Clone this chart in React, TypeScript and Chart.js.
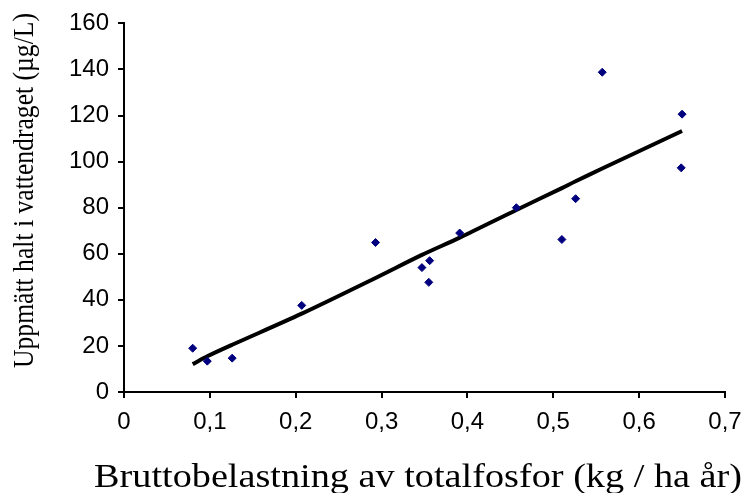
import React, { useEffect, useRef } from "react";
import { Chart, registerables } from "chart.js";

Chart.register(...registerables);

const loadX = [0.08, 0.097, 0.126, 0.207, 0.293, 0.347, 0.356, 0.355, 0.391, 0.457, 0.51, 0.526, 0.557, 0.65, 0.649];
const measuredY = [19, 13.4, 14.7, 37.6, 64.9, 54, 57, 47.6, 69, 80, 66.2, 83.9, 138.8, 120.6, 97.3];

const trendX = [0.08, 0.097, 0.126, 0.207, 0.293, 0.347, 0.391, 0.457, 0.51, 0.526, 0.557, 0.65];
const trendY = [12.1, 15.5, 20.5, 34, 49.5, 59.5, 67, 79, 88.5, 91.5, 97, 113.3];

const xTicks = [0, 0.1, 0.2, 0.3, 0.4, 0.5, 0.6, 0.7];
const yTicks = [0, 20, 40, 60, 80, 100, 120, 140, 160];

const xTitle = "Bruttobelastning av totalfosfor (kg / ha år)";
const yTitle = "Uppmätt halt i vattendraget (µg/L)";

const SERIF = "'Liberation Serif', 'Times New Roman', serif";

const titlePlugin = {
  id: "axisTitles",
  afterDraw(chart: any) {
    const ctx = chart.ctx;
    ctx.save();
    ctx.fillStyle = "#000";
    ctx.textAlign = "center";
    ctx.textBaseline = "alphabetic";
    // x title
    ctx.font = "34px " + SERIF;
    const wx = ctx.measureText(xTitle).width;
    ctx.save();
    ctx.translate(418, 487);
    ctx.scale(648 / wx, 1);
    ctx.fillText(xTitle, 0, 0);
    ctx.restore();
    // y title
    ctx.font = "26px " + SERIF;
    const wy = ctx.measureText(yTitle).width;
    ctx.save();
    ctx.translate(33, 190.5);
    ctx.rotate(-Math.PI / 2);
    ctx.scale(355 / wy, 1.1);
    ctx.fillText(yTitle, 0, 0);
    ctx.restore();
    ctx.restore();
  },
};

export default function App() {
  const ref = useRef<HTMLCanvasElement>(null);
  useEffect(() => {
    if (!ref.current) return;
    const chart = new Chart(ref.current, {
      type: "scatter",
      data: {
        datasets: [
          {
            label: "Trend",
            data: trendX.map((x, i) => ({ x, y: trendY[i] })),
            showLine: true,
            borderColor: "#000",
            borderWidth: 4,
            pointRadius: 0,
            tension: 0.3,
            order: 2,
          },
          {
            label: "Mätt",
            data: loadX.map((x, i) => ({ x, y: measuredY[i] })),
            pointStyle: "rectRot",
            pointRadius: 4,
            backgroundColor: "#00007f",
            borderColor: "#00007f",
            borderWidth: 1,
            order: 1,
          },
        ],
      },
      options: {
        animation: false,
        responsive: false,
        maintainAspectRatio: false,
        layout: { padding: { left: 0, right: 31, top: 22, bottom: 0 } },
        plugins: { legend: { display: false }, tooltip: { enabled: false } },
        scales: {
          x: {
            type: "linear",
            min: 0,
            max: 0.7,
            afterBuildTicks: (s: any) => {
              s.ticks = xTicks.map((v) => ({ value: v }));
            },
            afterFit: (s: any) => {
              s.height = 101;
            },
            ticks: {
              color: "#000",
              font: { family: "'Liberation Sans', Arial, sans-serif", size: 24 },
              padding: 10,
              maxRotation: 0,
              autoSkip: false,
              callback: (v: any) => (v === 0 ? "0" : (Math.round(Number(v) * 10) / 10).toFixed(1).replace(".", ",")),
            },
            grid: { drawOnChartArea: false, drawTicks: true, tickLength: 6, color: "#000", lineWidth: 2 },
            border: { color: "#000", width: 2 },
          },
          y: {
            type: "linear",
            min: 0,
            max: 160,
            afterBuildTicks: (s: any) => {
              s.ticks = yTicks.map((v) => ({ value: v }));
            },
            afterFit: (s: any) => {
              s.width = 124;
            },
            ticks: {
              color: "#000",
              font: { family: "'Liberation Sans', Arial, sans-serif", size: 24 },
              padding: 9,
              autoSkip: false,
            },
            grid: { drawOnChartArea: false, drawTicks: true, tickLength: 6, color: "#000", lineWidth: 2 },
            border: { color: "#000", width: 2 },
          },
        },
      },
      plugins: [titlePlugin],
    });
    return () => chart.destroy();
  }, []);
  return (
    <div style={{ position: "absolute", left: 0, top: 0, width: 756, height: 493, background: "#fff" }}>
      <canvas ref={ref} width={756} height={493} style={{ width: 756, height: 493 }} />
    </div>
  );
}
